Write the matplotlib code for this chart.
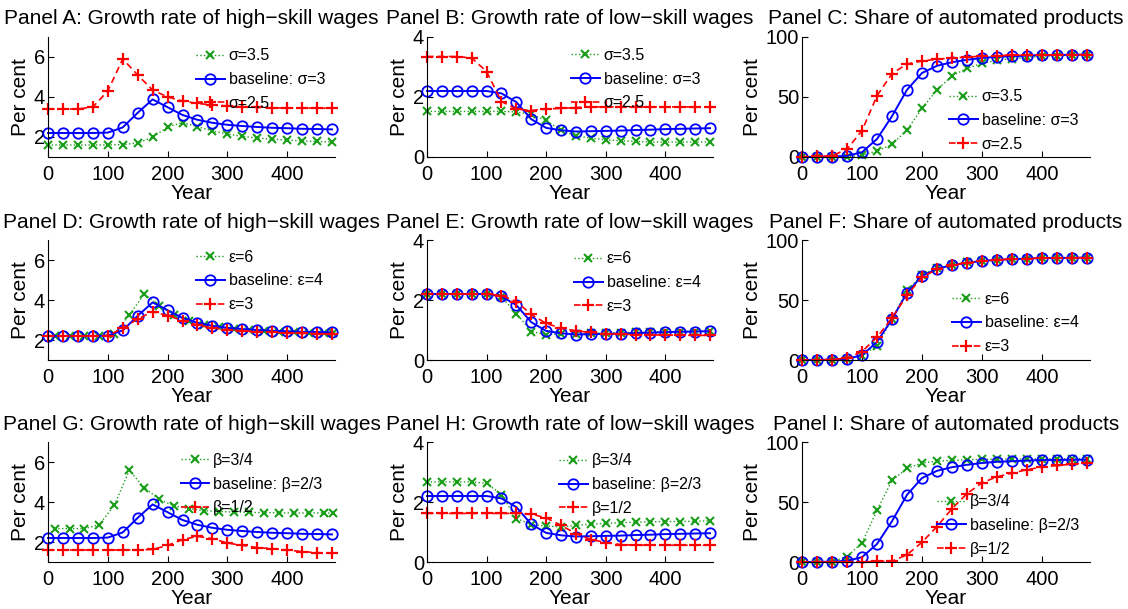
import matplotlib
matplotlib.use("Agg")
import matplotlib.pyplot as plt

plt.rcParams['font.family'] = ['Liberation Sans', 'DejaVu Sans']

# time grid of the plotted markers (years)
years = [0, 25, 50, 75, 100, 125, 150, 175, 200, 225, 250, 275, 300, 325, 350, 375, 400, 425, 450, 475]
years_shift = [11, 36, 61, 86, 111, 136, 161, 186, 211, 236, 261, 286, 311, 336, 361, 386, 411, 436, 461, 477]

# baseline series (same in every row)
base_high = [2.2, 2.2, 2.2, 2.2, 2.22, 2.48, 3.21, 3.88, 3.49, 3.1, 2.86, 2.71, 2.61, 2.55, 2.5, 2.46, 2.44, 2.41, 2.4, 2.38]
base_low = [2.2, 2.2, 2.2, 2.2, 2.2, 2.12, 1.83, 1.26, 0.97, 0.89, 0.85, 0.86, 0.87, 0.88, 0.9, 0.91, 0.93, 0.94, 0.95, 0.96]
base_share = [0, 0.1, 0.3, 1, 4, 15, 34, 56, 70, 76, 79, 81, 82.5, 83.5, 84, 84.5, 85, 85, 85.2, 85.3]

# row 1: sigma
sig_hi_high = [1.6, 1.6, 1.6, 1.6, 1.6, 1.62, 1.7, 1.98, 2.5, 2.72, 2.52, 2.3, 2.15, 2.03, 1.95, 1.89, 1.85, 1.8, 1.78, 1.75]
sig_lo_high = [3.4, 3.4, 3.4, 3.5, 4.3, 5.9, 5.1, 4.35, 4.0, 3.8, 3.68, 3.6, 3.55, 3.5, 3.48, 3.46, 3.45, 3.45, 3.44, 3.44]
sig_hi_low = [1.52, 1.52, 1.52, 1.52, 1.52, 1.52, 1.5, 1.42, 1.22, 0.89, 0.7, 0.63, 0.57, 0.54, 0.52, 0.5, 0.5, 0.5, 0.5, 0.5]
sig_lo_low = [3.35, 3.35, 3.35, 3.3, 2.85, 1.85, 1.6, 1.55, 1.6, 1.62, 1.65, 1.67, 1.67, 1.67, 1.67, 1.67, 1.67, 1.67, 1.67, 1.67]
sig_hi_share = [0, 0, 0.1, 0.3, 1.4, 5, 10.5, 22.5, 40.5, 56, 67.5, 74, 78, 80.5, 82, 83, 84, 84.5, 85, 85.2]
sig_lo_share = [0.3, 0.5, 1, 6.5, 22, 51, 69.5, 77.5, 80, 81.5, 82.5, 83.3, 84, 84.5, 84.8, 85, 85.1, 85.2, 85.3, 85.3]

# row 2: epsilon
eps_hi_high = [2.2, 2.2, 2.2, 2.2, 2.3, 3.25, 4.3, 3.72, 3.25, 2.95, 2.75, 2.63, 2.55, 2.49, 2.45, 2.41, 2.38, 2.36, 2.35, 2.34]
eps_lo_high = [2.2, 2.2, 2.2, 2.2, 2.22, 2.58, 3.05, 3.42, 3.22, 2.97, 2.75, 2.6, 2.52, 2.45, 2.42, 2.38, 2.35, 2.33, 2.32, 2.3]
eps_hi_low = [2.2, 2.2, 2.2, 2.2, 2.2, 2.1, 1.55, 0.95, 0.85, 0.87, 0.88, 0.89, 0.9, 0.91, 0.92, 0.93, 0.94, 0.95, 0.95, 0.96]
eps_lo_low = [2.2, 2.2, 2.2, 2.2, 2.2, 2.15, 1.95, 1.52, 1.22, 1.06, 0.97, 0.92, 0.88, 0.86, 0.85, 0.84, 0.83, 0.83, 0.82, 0.82]
eps_hi_share = [0, 0.1, 0.3, 1, 3.5, 12, 34, 58, 71, 76.5, 79.5, 81.5, 82.5, 83.5, 84, 84.5, 85, 85, 85.2, 85.3]
eps_lo_share = [0, 0.1, 0.4, 1.5, 7, 19, 35, 54, 69, 75.5, 79, 81, 82.5, 83.5, 84, 84.5, 85, 85, 85.2, 85.3]

# row 3: beta
beta_hi_high = [2.67, 2.67, 2.67, 2.87, 3.85, 5.58, 4.72, 4.13, 3.8, 3.67, 3.57, 3.52, 3.5, 3.48, 3.47, 3.46, 3.45, 3.45, 3.45, 3.45]
beta_lo_high = [1.6, 1.6, 1.6, 1.6, 1.6, 1.6, 1.6, 1.63, 1.83, 2.12, 2.28, 2.17, 1.95, 1.83, 1.72, 1.67, 1.6, 1.52, 1.47, 1.43]
beta_hi_low = [2.67, 2.67, 2.67, 2.67, 2.62, 2.25, 1.45, 1.25, 1.2, 1.17, 1.22, 1.26, 1.29, 1.31, 1.33, 1.34, 1.35, 1.35, 1.36, 1.37]
beta_lo_low = [1.62, 1.62, 1.62, 1.62, 1.62, 1.62, 1.62, 1.6, 1.47, 1.22, 0.95, 0.75, 0.65, 0.58, 0.56, 0.56, 0.56, 0.56, 0.56, 0.56]
beta_hi_share = [0, 0, 0.2, 4.5, 16, 43, 68, 78, 82.5, 84, 84.7, 85.2, 85.5, 85.7, 85.8, 85.9, 86, 86, 86, 86]
beta_lo_share = [0, 0, 0, 0, 0.1, 0.5, 0.7, 6, 16.5, 29.5, 44.5, 57, 66, 71, 74, 77, 79, 80.5, 81.5, 82.5]

titles = ["Growth rate of high\u2212skill wages", "Growth rate of low\u2212skill wages", "Share of automated products"]
letters = ["ABC", "DEF", "GHI"]
row_labels = [("\u03c3=3.5", "baseline: \u03c3=3", "\u03c3=2.5"),
              ("\u03b5=6", "baseline: \u03b5=4", "\u03b5=3"),
              ("\u03b2=3/4", "baseline: \u03b2=2/3", "\u03b2=1/2")]
row_data = [[(sig_hi_high, sig_lo_high), (sig_hi_low, sig_lo_low), (sig_hi_share, sig_lo_share)],
            [(eps_hi_high, eps_lo_high), (eps_hi_low, eps_lo_low), (eps_hi_share, eps_lo_share)],
            [(beta_hi_high, beta_lo_high), (beta_hi_low, beta_lo_low), (beta_hi_share, beta_lo_share)]]
green_x = [[years, years, years], [years_shift, years, years], [years_shift, years, years]]
baselines = [base_high, base_low, base_share]
ylims = [(1, 7), (0, 4), (0, 100)]
yticks = [[2, 4, 6], [0, 2, 4], [0, 50, 100]]

# layout in pixels
W, H = 1128, 609
col_left = [48, 427, 802]
col_width = [287, 286, 288]
row_top = [37, 240, 442]
ax_h = 120
legend_pos = [[(0.515, 0.905), (0.503, 0.91), (0.51, 0.565)],
              [(0.515, 0.92), (0.514, 0.905), (0.52, 0.57)],
              [(0.462, 0.91), (0.461, 0.905), (0.469, 0.565)]]

GREEN = (0.1, 0.62, 0.1)

fig = plt.figure(figsize=(W / 100, H / 100), dpi=100)
for r in range(3):
    for c in range(3):
        ax = fig.add_axes([col_left[c] / W, 1 - (row_top[r] + ax_h) / H, col_width[c] / W, ax_h / H])
        hi, lo = row_data[r][c]
        lab = row_labels[r]
        ax.plot(green_x[r][c], hi, ':', color=GREEN, lw=1.0, marker='x', ms=5.5, mew=1.5,
                label=lab[0], clip_on=False)
        ax.plot(years, baselines[c], '-', color='blue', lw=1.4, marker='o', ms=7.5, mew=1.3,
                mfc='none', label=lab[1], clip_on=False)
        ax.plot(years, lo, '--', color='red', lw=1.2, marker='+', ms=8, mew=1.6,
                dashes=(4, 2.5), label=lab[2], clip_on=False)
        ax.set_xlim(0, 480)
        ax.set_ylim(*ylims[c])
        ax.set_xticks([0, 100, 200, 300, 400])
        ax.set_yticks(yticks[c])
        for s in ['top', 'right']:
            ax.spines[s].set_visible(False)
        ax.tick_params(direction='in', length=4, width=0.8, labelsize=14.5)
        ax.tick_params(axis='x', pad=6)
        ax.tick_params(axis='y', pad=2)
        ax.set_title("Panel %s: %s" % (letters[r][c], titles[c]), fontsize=15, pad=9)
        ax.set_xlabel("Year", fontsize=15, labelpad=0)
        ax.set_ylabel("Per cent", fontsize=15, labelpad=3)
        ax.legend(loc='upper left', bbox_to_anchor=legend_pos[r][c], frameon=False,
                  fontsize=11.5, handlelength=1.8, handletextpad=0.25, labelspacing=0.55,
                  borderpad=0, borderaxespad=0)

fig.savefig("out.png", dpi=100)
